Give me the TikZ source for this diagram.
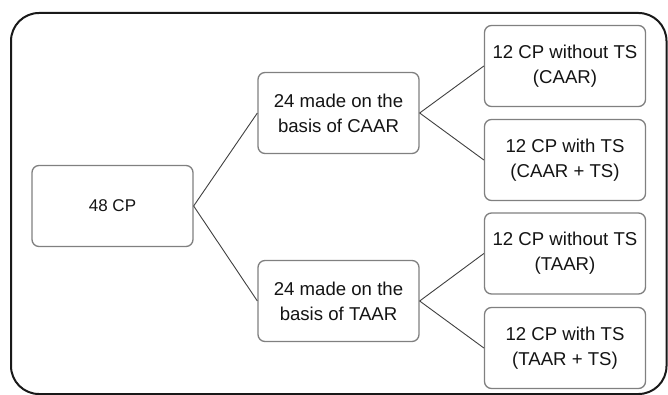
\documentclass[tikz,border=0pt]{standalone}
\usepackage{fontspec}
\setmainfont{Liberation Sans}
\begin{document}
\begin{tikzpicture}[x=1pt,y=-1pt,
  box/.style={draw=black!50, line width=1.3pt, rounded corners=7pt, fill=white,
    minimum width=161pt, minimum height=81pt, inner sep=0pt, align=center,
    font=\fontsize{18.6}{25}\selectfont, text=black!92},
  link/.style={draw=black!75, line width=0.9pt}]
\useasboundingbox (0,0) rectangle (668,395);
\draw[line width=2pt, rounded corners=28pt, black!90] (11,13) rectangle (666.5,394);
\node[box, font=\fontsize{17}{22}\selectfont] (root) at (112.5,206) {48 CP};
\node[box] (caar) at (338.5,113) {24 made on the\\basis of CAAR};
\node[box] (taar) at (338.5,301) {24 made on the\\basis of TAAR};
\node[box] (c1) at (565,66) {12 CP without TS\\(CAAR)};
\node[box] (c2) at (565,160) {12 CP with TS\\(CAAR + TS)};
\node[box] (t1) at (565,253.5) {12 CP without TS\\(TAAR)};
\node[box] (t2) at (565,348) {12 CP with TS\\(TAAR + TS)};
\draw[link] (root.east) -- (caar.west);
\draw[link] (root.east) -- (taar.west);
\draw[link] (caar.east) -- (c1.west);
\draw[link] (caar.east) -- (c2.west);
\draw[link] (taar.east) -- (t1.west);
\draw[link] (taar.east) -- (t2.west);
\end{tikzpicture}
\end{document}
